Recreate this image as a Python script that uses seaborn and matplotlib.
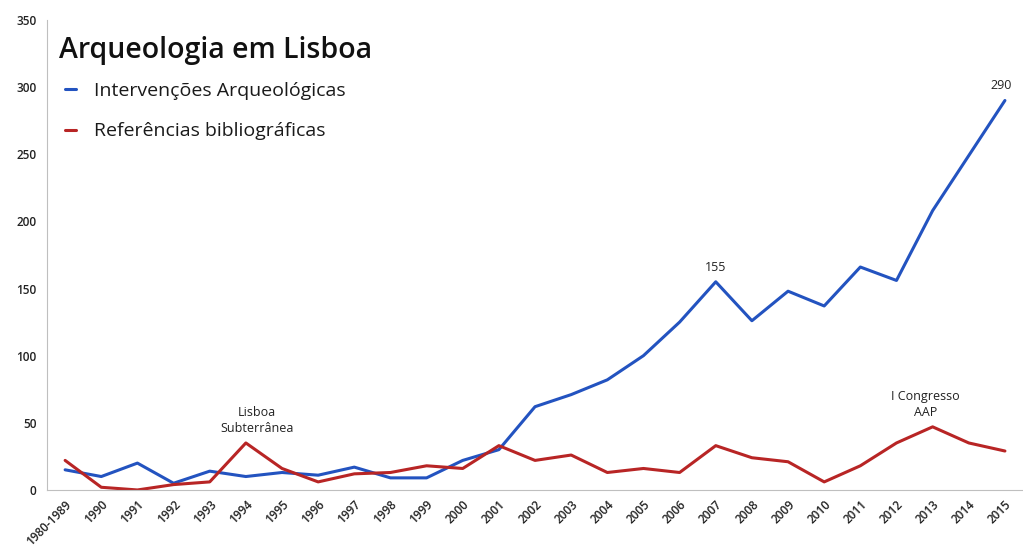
import pandas as pd
import numpy as np
import matplotlib
matplotlib.use('Agg')
import matplotlib.pyplot as plt
import seaborn as sns

# Dados
anos = ['1980-1989', '1990', '1991', '1992', '1993', '1994', '1995', '1996', '1997',
        '1998', '1999', '2000', '2001', '2002', '2003', '2004', '2005', '2006', '2007',
        '2008', '2009', '2010', '2011', '2012', '2013', '2014', '2015']
intervencoes = [15, 10, 20, 5, 14, 10, 13, 11, 17, 9, 9, 22, 30, 62, 71, 82, 100, 125, 155,
                126, 148, 137, 166, 156, 208, 249, 290]
referencias = [22, 2, 0, 4, 6, 35, 16, 6, 12, 13, 18, 16, 33, 22, 26, 13, 16, 13, 33,
               24, 21, 6, 18, 35, 47, 35, 29]

serie_a = 'Intervenções Arqueológicas'
serie_b = 'Referências bibliográficas'

df = pd.DataFrame({
    'idx': list(range(len(anos))) * 2,
    'valor': intervencoes + referencias,
    'serie': [serie_a] * len(anos) + [serie_b] * len(anos),
})

sns.set_style('white')
plt.rcParams['font.family'] = ['Open Sans', 'DejaVu Sans']

fig = plt.figure(figsize=(10.23, 5.53), dpi=100)
ax = fig.add_axes([0.046, 0.114, 0.954, 0.85])

sns.lineplot(data=df, x='idx', y='valor', hue='serie', ax=ax,
             palette={serie_a: '#2353c0', serie_b: '#b82525'}, linewidth=2.2, legend=True)

ax.set_xlim(-0.5, 26.35)
ax.set_ylim(0, 350)
ax.set_yticks(np.arange(0, 351, 50))
ax.set_xticks(range(len(anos)))
ax.set_xticklabels(anos, rotation=45, ha='right', rotation_mode='anchor', fontsize=8.5,
                   fontweight='semibold', color='#222222')
ax.set_xticks(np.arange(-0.5, len(anos), 1), minor=True)
ax.tick_params(axis='x', which='major', length=0, pad=6)
ax.tick_params(axis='x', which='minor', length=5, color='#bfbfbf', width=1, direction='out')
ax.tick_params(axis='y', length=4, color='#bfbfbf', labelsize=8.5, labelcolor='#222222',
               direction='out')
for t in ax.get_yticklabels():
    t.set_fontweight('semibold')
ax.set_xlabel('')
ax.set_ylabel('')
for s in ['top', 'right']:
    ax.spines[s].set_visible(False)
for s in ['left', 'bottom']:
    ax.spines[s].set_color('#bfbfbf')

ax.text(0.012, 0.935, 'Arqueologia em Lisboa', transform=ax.transAxes,
        fontsize=20.5, fontweight='semibold', color='#111111', va='center')

leg = ax.legend(loc='upper left', bbox_to_anchor=(0.0, 0.905), frameon=False,
                fontsize=14, handlelength=0.6, handletextpad=0.9, labelspacing=1.15)
for t in leg.get_texts():
    t.set_color('#1a1a1a')

ax.text(5.3, 41, 'Lisboa\nSubterrânea', ha='center', va='bottom', fontsize=9,
        linespacing=1.3, color='#222222')
ax.text(18.0, 161, '155', ha='center', va='bottom', fontsize=9, color='#222222')
ax.text(25.9, 296, '290', ha='center', va='bottom', fontsize=9, color='#222222')
ax.text(23.8, 53, 'I Congresso\nAAP', ha='center', va='bottom', fontsize=9,
        linespacing=1.3, color='#222222')

plt.savefig('out.png', dpi=100)
